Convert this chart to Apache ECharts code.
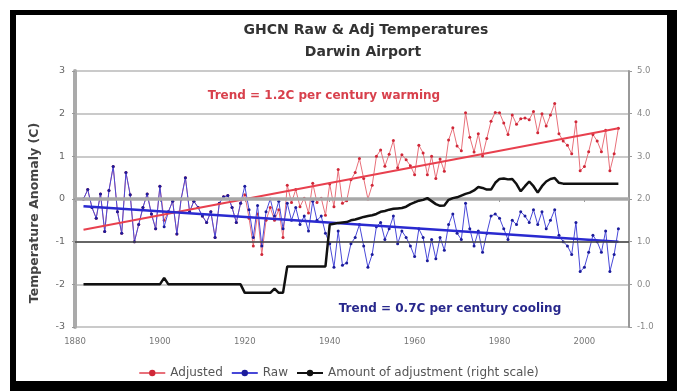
<!DOCTYPE html>
<html>
<head>
<meta charset="utf-8">
<script src="https://cdn.jsdelivr.net/npm/echarts@6/dist/echarts.min.js"></script>
<style>
html,body{margin:0;padding:0;background:#fff;}
#frame{position:absolute;left:10px;top:10px;width:651px;height:366px;border-style:solid;border-color:#000;border-width:5px 10px 10px 6px;}
#chart{position:absolute;left:0;top:0;width:677px;height:391px;}
</style>
</head>
<body>
<div id="frame"></div>
<div id="chart"></div>
<script>
const years = [
 1882,1883,1884,1885,1886,1887,1888,1889,1890,1891,
 1892,1893,1894,1895,1896,1897,1898,1899,1900,1901,
 1902,1903,1904,1905,1906,1907,1908,1909,1910,1911,
 1912,1913,1914,1915,1916,1917,1918,1919,1920,1921,
 1922,1923,1924,1925,1926,1927,1928,1929,1930,1931,
 1932,1933,1934,1935,1936,1937,1938,1939,1940,1941,
 1942,1943,1944,1945,1946,1947,1948,1949,1950,1951,
 1952,1953,1954,1955,1956,1957,1958,1959,1960,1961,
 1962,1963,1964,1965,1966,1967,1968,1969,1970,1971,
 1972,1973,1974,1975,1976,1977,1978,1979,1980,1981,
 1982,1983,1984,1985,1986,1987,1988,1989,1990,1991,
 1992,1993,1994,1995,1996,1997,1998,1999,2000,2001,
 2002,2003,2004,2005,2006,2007,2008
];
const raw = [
 0.0,0.22,-0.2,-0.45,0.12,-0.76,0.2,0.76,-0.3,-0.8,
 0.62,0.1,-1.0,-0.6,-0.2,0.12,-0.35,-0.7,0.3,-0.65,
 -0.3,-0.05,-0.82,0.0,0.5,-0.3,-0.05,-0.2,-0.4,-0.55,
 -0.3,-0.9,-0.1,0.05,0.08,-0.2,-0.55,-0.1,0.3,-0.25,
 -0.9,-0.15,-1.1,-0.3,0.0,-0.4,-0.05,-0.7,-0.1,-0.5,
 -0.2,-0.6,-0.4,-0.75,-0.05,-0.5,-0.4,-0.8,-1.05,-1.6,
 -0.75,-1.55,-1.5,-1.05,-0.9,-0.6,-1.1,-1.6,-1.3,-0.65,
 -0.55,-0.95,-0.7,-0.4,-1.05,-0.75,-0.9,-1.1,-1.35,-0.7,
 -0.9,-1.45,-0.95,-1.4,-0.9,-1.2,-0.6,-0.35,-0.8,-0.95,
 -0.1,-0.7,-1.1,-0.75,-1.25,-0.8,-0.4,-0.35,-0.45,-0.7,
 -0.95,-0.5,-0.6,-0.3,-0.4,-0.55,-0.25,-0.6,-0.3,-0.7,
 -0.5,-0.25,-0.85,-1.0,-1.1,-1.3,-0.55,-1.7,-1.6,-1.25,
 -0.85,-1.0,-1.25,-0.75,-1.7,-1.3,-0.7
];
const adjusted = [
 0.0,0.22,-0.2,-0.45,0.12,-0.76,0.2,0.76,-0.3,-0.8,
 0.62,0.1,-1.0,-0.6,-0.2,0.12,-0.35,-0.7,0.3,-0.5,
 -0.3,-0.05,-0.82,0.0,0.5,-0.3,-0.05,-0.2,-0.4,-0.55,
 -0.3,-0.9,-0.1,0.05,0.08,-0.2,-0.55,-0.1,0.1,-0.45,
 -1.1,-0.35,-1.3,-0.5,-0.2,-0.5,-0.25,-0.9,0.32,-0.08,
 0.22,-0.18,0.02,-0.33,0.37,-0.08,0.02,-0.38,0.35,-0.18,
 0.69,-0.1,-0.04,0.45,0.62,0.95,0.48,0.0,0.32,1.0,
 1.15,0.77,1.05,1.37,0.73,1.04,0.92,0.78,0.57,1.26,
 1.08,0.57,1.0,0.48,0.94,0.65,1.38,1.67,1.24,1.13,
 2.02,1.45,1.1,1.53,1.01,1.42,1.82,2.03,2.02,1.78,
 1.51,1.97,1.75,1.88,1.9,1.86,2.05,1.55,2.0,1.71,
 1.97,2.24,1.53,1.36,1.26,1.06,1.81,0.66,0.76,1.11,
 1.51,1.36,1.11,1.61,0.66,1.06,1.66
];
const adjustment = [
 0,0,0,0,0,0,0,0,0,0,
 0,0,0,0,0,0,0,0,0,0.15,
 0,0,0,0,0,0,0,0,0,0,
 0,0,0,0,0,0,0,0,-0.2,-0.2,
 -0.2,-0.2,-0.2,-0.2,-0.2,-0.1,-0.2,-0.2,0.42,0.42,
 0.42,0.42,0.42,0.42,0.42,0.42,0.42,0.42,1.4,1.42,
 1.44,1.45,1.46,1.5,1.52,1.55,1.58,1.6,1.62,1.65,
 1.7,1.72,1.75,1.77,1.78,1.79,1.82,1.88,1.92,1.96,
 1.98,2.02,1.95,1.88,1.84,1.85,1.98,2.02,2.04,2.08,
 2.12,2.15,2.2,2.28,2.26,2.22,2.22,2.38,2.47,2.48,
 2.46,2.47,2.35,2.18,2.3,2.41,2.3,2.15,2.3,2.41,
 2.47,2.49,2.38,2.36,2.36,2.36,2.36,2.36,2.36,2.36,
 2.36,2.36,2.36,2.36,2.36,2.36,2.36
];
const trendYears = [1882, 2008];
const adjustedTrend = [-0.72, 1.66];
const rawTrend = [-0.17, -1.0];
const leftTicks = [-3, 3, 1];
const rightTicks = [-1, 5, 1];
const xRange = [1880, 2010.5, 20];
const refLines = [0, -1];

const pairs = (xs, ys) => xs.map((x, i) => [x, ys[i]]);
const FONT = 'DejaVu Sans';

const chart = echarts.init(document.getElementById('chart'), null, {renderer: 'canvas'});
chart.setOption({
  animation: false,
  textStyle: {fontFamily: FONT},
  title: [
    {text: 'GHCN Raw & Adj Temperatures', left: 361, top: 18, textAlign: 'center',
     textStyle: {fontFamily: FONT, fontSize: 14, fontWeight: 'bold', color: '#333'}},
    {text: 'Darwin Airport', left: 358, top: 40, textAlign: 'center',
     textStyle: {fontFamily: FONT, fontSize: 14, fontWeight: 'bold', color: '#333'}},
    {text: 'Trend = 1.2C per century warming', left: 319, top: 85, textAlign: 'center',
     textStyle: {fontFamily: FONT, fontSize: 12, fontWeight: 'bold', color: '#d8404c'}},
    {text: 'Trend = 0.7C per century cooling', left: 445, top: 298, textAlign: 'center',
     textStyle: {fontFamily: FONT, fontSize: 12, fontWeight: 'bold', color: '#28288c'}}
  ],
  grid: {left: 75, right: 48, top: 71, bottom: 64},
  legend: {
    top: 362, left: 'center', itemGap: 8, itemWidth: 26, itemHeight: 8,
    textStyle: {fontFamily: FONT, fontSize: 12, color: '#555'},
    data: ['Adjusted', 'Raw', 'Amount of adjustment (right scale)']
  },
  xAxis: [{
    type: 'value', min: xRange[0], max: xRange[1], interval: xRange[2],
    axisLine: {lineStyle: {color: '#999', width: 2}},
    axisTick: {show: true, length: 3, lineStyle: {color: '#999'}},
    axisLabel: {fontSize: 8.5, color: '#777', margin: 10, showMaxLabel: false,
      formatter: v => (v % 20 === 0 ? String(v) : '')},
    splitLine: {show: false}
  }],
  yAxis: [{
    type: 'value', min: leftTicks[0], max: leftTicks[1], interval: leftTicks[2],
    name: 'Temperature Anomaly (C)', nameLocation: 'middle', nameGap: 34,
    nameTextStyle: {fontFamily: FONT, fontSize: 12.5, fontWeight: 'bold', color: '#444',
      padding: [0, 28, 0, 0]},
    axisLine: {show: true, lineStyle: {color: '#aaa', width: 4}},
    axisTick: {show: true, length: 3, lineStyle: {color: '#999'}},
    axisLabel: {fontSize: 9.5, color: '#666', margin: 10},
    splitLine: {show: true, lineStyle: {color: '#b8b8b8', width: 1.5}}
  }, {
    type: 'value', min: rightTicks[0], max: rightTicks[1], interval: rightTicks[2],
    position: 'right',
    axisLine: {show: true, lineStyle: {color: '#999', width: 2}},
    axisTick: {show: true, length: 3, lineStyle: {color: '#999'}},
    axisLabel: {fontSize: 8.5, color: '#888', margin: 8, formatter: v => v.toFixed(1)},
    splitLine: {show: false}
  }],
  series: [{
    name: 'Adjusted', type: 'line', data: pairs(years, adjusted),
    symbol: 'circle', symbolSize: 3, showSymbol: true,
    lineStyle: {color: '#e8707a', width: 1},
    itemStyle: {color: '#d02838'}, z: 2
  }, {
    name: 'Raw', type: 'line', data: pairs(years, raw),
    symbol: 'circle', symbolSize: 3, showSymbol: true,
    lineStyle: {color: '#4848d8', width: 1},
    itemStyle: {color: '#1c1c9c'}, z: 3,
    markLine: {
      silent: true, symbol: 'none', label: {show: false},
      data: [
        {yAxis: refLines[0], lineStyle: {color: '#a8a8a8', width: 3.5, type: 'solid'}},
        {yAxis: refLines[1], lineStyle: {color: '#444', width: 1.5, type: 'solid'}}
      ]
    }
  }, {
    name: 'Amount of adjustment (right scale)', type: 'line', yAxisIndex: 1,
    data: pairs(years, adjustment), showSymbol: false, symbol: 'none',
    lineStyle: {color: '#111', width: 2.5}, itemStyle: {color: '#111'}, z: 5
  }, {
    name: 'Adjusted trend', type: 'line', data: pairs(trendYears, adjustedTrend),
    showSymbol: false, symbol: 'none', lineStyle: {color: '#e8404e', width: 2}, z: 4
  }, {
    name: 'Raw trend', type: 'line', data: pairs(trendYears, rawTrend),
    showSymbol: false, symbol: 'none', lineStyle: {color: '#2a2ad0', width: 2.5}, z: 4
  }]
});
</script>
</body>
</html>
